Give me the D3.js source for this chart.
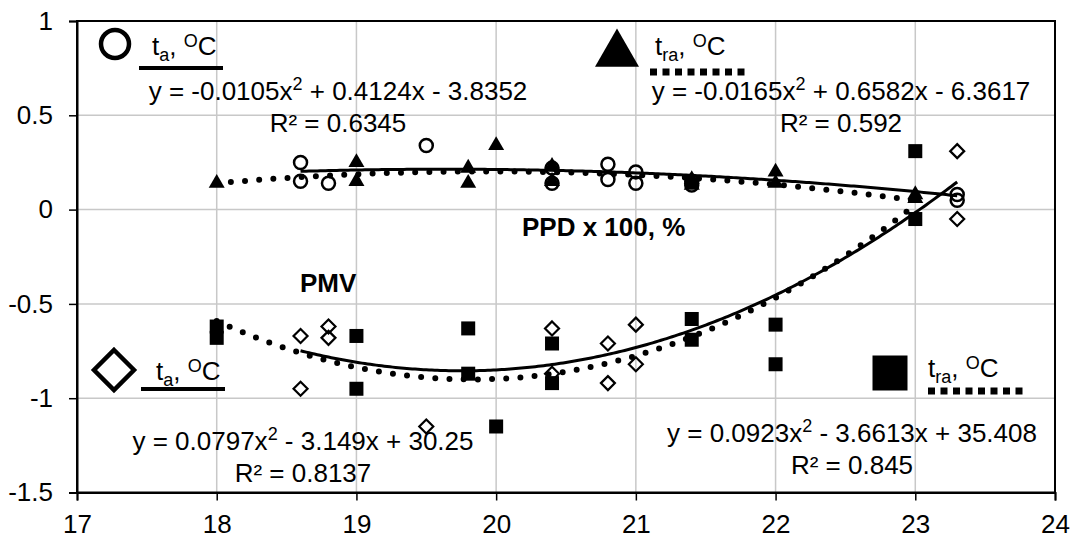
<!DOCTYPE html>
<html>
<head>
<meta charset="utf-8">
<script src="https://cdn.jsdelivr.net/npm/d3@7"></script>
<style>
  body { margin: 0; background: #fff; }
  text { font-family: "Liberation Sans", Arial, sans-serif; fill: #000; }
</style>
</head>
<body>
<svg id="chart" width="1075" height="537"></svg>
<script>
// PPD x 100 vs t_a (open circles)
const ppdTaX = [18.6, 18.6, 18.8, 19.5, 20.4, 20.4, 20.8, 20.8, 21.0, 21.0, 21.4, 21.4, 23.3, 23.3];
const ppdTaY = [0.25, 0.15, 0.14, 0.34, 0.22, 0.14, 0.24, 0.16, 0.20, 0.14, 0.15, 0.13, 0.08, 0.05];
// PPD x 100 vs t_ra (filled triangles)
const ppdTraX = [18.0, 19.0, 19.0, 19.8, 19.8, 20.0, 20.4, 20.4, 21.4, 21.4, 22.0, 22.0, 23.0, 23.0];
const ppdTraY = [0.14, 0.25, 0.15, 0.22, 0.14, 0.34, 0.23, 0.15, 0.16, 0.13, 0.20, 0.14, 0.08, 0.06];
// PMV vs t_a (open diamonds)
const pmvTaX = [18.6, 18.6, 18.8, 18.8, 19.5, 20.4, 20.4, 20.8, 20.8, 21.0, 21.0, 23.3, 23.3];
const pmvTaY = [-0.67, -0.95, -0.62, -0.68, -1.15, -0.63, -0.87, -0.71, -0.92, -0.61, -0.82, -0.05, 0.31];
// PMV vs t_ra (filled squares)
const pmvTraX = [18.0, 18.0, 19.0, 19.0, 19.8, 19.8, 20.0, 20.4, 20.4, 21.4, 21.4, 22.0, 22.0, 23.0, 23.0];
const pmvTraY = [-0.62, -0.68, -0.67, -0.95, -0.63, -0.87, -1.15, -0.71, -0.92, -0.58, -0.69, -0.61, -0.82, -0.05, 0.31];

// trendline coefficients as printed on the chart (a x^2 + b x + c)
const fitPpdTa = [-0.0105, 0.4124, -3.8352];
const fitPpdTra = [-0.0165, 0.6582, -6.3617];
const fitPmvTa = [0.0797, -3.149, 30.25];
const fitPmvTra = [0.0923, -3.6613, 35.408];

const xTicks = [17, 18, 19, 20, 21, 22, 23, 24];
const yTicks = [1, 0.5, 0, -0.5, -1, -1.5];

const FS = "26px";

const svg = d3.select("#chart");
const x = d3.scaleLinear().domain([17, 24]).range([77, 1055]);
const y = d3.scaleLinear().domain([-1.5, 1]).range([492.5, 21]);

svg.append("rect").attr("width", 1075).attr("height", 537).attr("fill", "#fff");

// grid
svg.append("g").selectAll("line").data(xTicks.slice(1, -1)).enter().append("line")
    .attr("x1", d => x(d)).attr("x2", d => x(d)).attr("y1", y(1)).attr("y2", y(-1.5))
    .attr("stroke", "#c8c8c8").attr("stroke-width", 1.5);
svg.append("g").selectAll("line").data(yTicks.slice(1, -1)).enter().append("line")
    .attr("x1", x(17)).attr("x2", x(24)).attr("y1", d => y(d)).attr("y2", d => y(d))
    .attr("stroke", "#c8c8c8").attr("stroke-width", 1.5);

// frame
svg.append("rect").attr("x", x(17)).attr("y", y(1)).attr("width", x(24) - x(17)).attr("height", y(-1.5) - y(1))
    .attr("fill", "none").attr("stroke", "#000").attr("stroke-width", 2);

// axes
const xAxis = svg.append("g").attr("transform", "translate(0," + y(-1.5) + ")")
    .call(d3.axisBottom(x).tickValues(xTicks).tickSize(8).tickFormat(d3.format("d")));
const yAxis = svg.append("g").attr("transform", "translate(" + x(17) + ",0)")
    .call(d3.axisLeft(y).tickValues(yTicks).tickSize(8).tickPadding(16).tickFormat(d => String(d)));
[xAxis, yAxis].forEach(a => {
    a.select(".domain").attr("stroke", "#000").attr("stroke-width", 2);
    a.selectAll(".tick line").attr("stroke", "#000").attr("stroke-width", 1.5);
    a.selectAll("text").style("font-size", FS).style("font-family", "'Liberation Sans', Arial, sans-serif").attr("fill", "#000");
});
xAxis.selectAll("text").attr("y", 40).attr("dy", 0);

// trendlines
function fitLine(coef, xs, dotted) {
    const lo = d3.min(xs), hi = d3.max(xs);
    const pts = d3.range(lo, hi, 0.02).concat([hi]).map(v => [v, coef[0] * v * v + coef[1] * v + coef[2]]);
    const line = d3.line().x(d => x(d[0])).y(d => y(d[1]));
    const p = svg.append("path").attr("d", line(pts)).attr("fill", "none").attr("stroke", "#000");
    if (dotted) {
        p.attr("stroke-width", 6).attr("stroke-linecap", "round").attr("stroke-dasharray", "0 14.2");
    } else {
        p.attr("stroke-width", 3);
    }
}

// markers
const sym = {
    circle: (g, r, sw) => g.append("circle").attr("r", r).attr("fill", "none").attr("stroke", "#000").attr("stroke-width", sw),
    tri: (g, s) => g.append("path").attr("d", d3.symbol(d3.symbolTriangle, s * s * Math.sqrt(3) / 4)()).attr("fill", "#000"),
    square: (g, s) => g.append("rect").attr("x", -s / 2).attr("y", -s / 2).attr("width", s).attr("height", s).attr("fill", "#000"),
    diamond: (g, h, sw) => g.append("path").attr("d", "M0," + (-h) + "L" + h + ",0L0," + h + "L" + (-h) + ",0Z")
        .attr("fill", "none").attr("stroke", "#000").attr("stroke-width", sw)
};

function points(xs, ys, draw) {
    xs.forEach((v, i) => {
        const g = svg.append("g").attr("transform", "translate(" + x(v) + "," + y(ys[i]) + ")");
        draw(g);
    });
}

points(pmvTaX, pmvTaY, g => sym.diamond(g, 7, 2.2));
points(pmvTraX, pmvTraY, g => sym.square(g, 14));
points(ppdTaX, ppdTaY, g => sym.circle(g, 6.5, 2.5));
points(ppdTraX, ppdTraY, g => sym.tri(g, 16));

fitLine(fitPpdTa, ppdTaX, false);
fitLine(fitPpdTra, ppdTraX, true);
fitLine(fitPmvTa, pmvTaX, false);
fitLine(fitPmvTra, pmvTraX, true);

// legend labels
function label(tx, ty, sub) {
    const t = svg.append("text").attr("x", tx).attr("y", ty).style("font-size", FS);
    t.append("tspan").text("t");
    t.append("tspan").attr("dy", 6).style("font-size", "18px").text(sub);
    t.append("tspan").attr("dy", -6).text(", ");
    t.append("tspan").attr("dy", -8).style("font-size", "18px").text("O");
    t.append("tspan").attr("dy", 8).text("C");
}
function legendLine(x1, x2, ly, dotted) {
    const l = svg.append("line").attr("x1", x1).attr("x2", x2).attr("y1", ly).attr("y2", ly).attr("stroke", "#000");
    if (dotted) l.attr("stroke-width", 7).attr("stroke-dasharray", "7 5.5");
    else l.attr("stroke-width", 4);
}

sym.circle(svg.append("g").attr("transform", "translate(115,44)"), 14, 4.5);
label(152, 55, "a");
legendLine(139, 223, 68, false);

sym.tri(svg.append("g").attr("transform", "translate(617,54)"), 44);
label(655, 55, "ra");
legendLine(650, 747, 72, true);

sym.diamond(svg.append("g").attr("transform", "translate(114,370)"), 20, 4.5);
label(156, 380, "a");
legendLine(141, 225, 389, false);

sym.square(svg.append("g").attr("transform", "translate(890,373)"), 35);
label(928, 377, "ra");
legendLine(928, 1024, 391, true);

// equations
function equation(cx, ty, a, b, c, r2) {
    const t = svg.append("text").attr("x", cx).attr("y", ty).attr("text-anchor", "middle").style("font-size", FS);
    t.append("tspan").text("y = " + a + "x");
    t.append("tspan").attr("dy", -10).style("font-size", "18px").text("2");
    t.append("tspan").attr("dy", 10).text(" " + b + "x " + c);
    svg.append("text").attr("x", cx).attr("y", ty + 32).attr("text-anchor", "middle").style("font-size", FS)
        .text("R\u00b2 = " + r2);
}
equation(338, 100, "-0.0105", "+ 0.4124", "- 3.8352", "0.6345");
equation(841, 100, "-0.0165", "+ 0.6582", "- 6.3617", "0.592");
equation(303, 450, "0.0797", "- 3.149", "+ 30.25", "0.8137");
equation(852, 442, "0.0923", "- 3.6613", "+ 35.408", "0.845");

svg.append("text").attr("x", 522).attr("y", 236).style("font-size", FS).style("font-weight", "bold").text("PPD x 100, %");
svg.append("text").attr("x", 300).attr("y", 292).style("font-size", FS).style("font-weight", "bold").text("PMV");
</script>
</body>
</html>
